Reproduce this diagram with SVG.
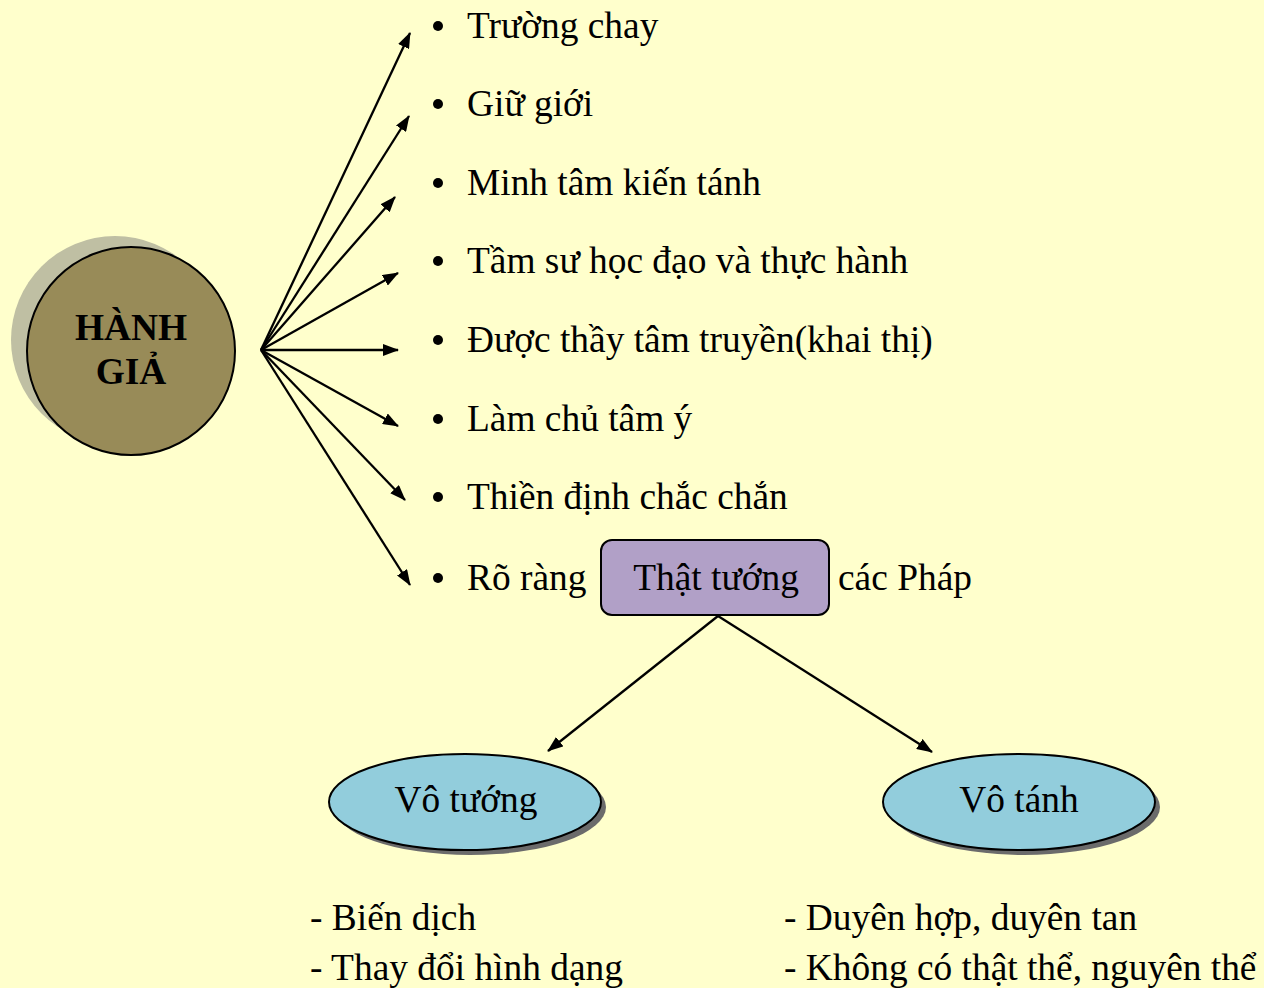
<svg xmlns="http://www.w3.org/2000/svg" width="1264" height="988" viewBox="0 0 1264 988">
<defs>
<marker id="ah" viewBox="0 0 16 12" refX="15" refY="6" markerWidth="16" markerHeight="12" markerUnits="userSpaceOnUse" orient="auto">
<path d="M0,0 L16,6 L0,12 Z" fill="#000"/>
</marker>
</defs>
<style>
.t{font-family:"Liberation Serif","Times New Roman",serif;font-size:37.4px;fill:#000}
.c{stroke:#000;stroke-width:2.3;fill:none;marker-end:url(#ah)}
</style>
<rect width="1264" height="988" fill="#FFFFCC"/>
<g id="hanh-gia">
<circle cx="115" cy="340" r="104" fill="#BFBFA3"/>
<circle cx="131" cy="351" r="104" fill="#988B58" stroke="#000" stroke-width="2"/>
<text class="t" x="131" y="340" text-anchor="middle" font-weight="bold" font-size="35">HÀNH</text>
<text class="t" x="131" y="384" text-anchor="middle" font-weight="bold" font-size="35">GIẢ</text>
</g>
<g id="connectors">
<line class="c" x1="261" y1="350" x2="410" y2="33"/>
<line class="c" x1="261" y1="350" x2="409" y2="116"/>
<line class="c" x1="261" y1="350" x2="395" y2="197"/>
<line class="c" x1="261" y1="350" x2="398" y2="273"/>
<line class="c" x1="261" y1="350" x2="398" y2="350"/>
<line class="c" x1="261" y1="350" x2="398" y2="426"/>
<line class="c" x1="261" y1="350" x2="405" y2="500"/>
<line class="c" x1="261" y1="350" x2="410" y2="585"/>
<line class="c" x1="718" y1="616" x2="548" y2="751"/>
<line class="c" x1="718" y1="616" x2="932" y2="752"/>
</g>
<g id="list">
<circle cx="438" cy="26" r="5"/><text class="t" x="467" y="38">Trường chay</text>
<circle cx="438" cy="104" r="5"/><text class="t" x="467" y="116">Giữ giới</text>
<circle cx="438" cy="183" r="5"/><text class="t" x="467" y="195">Minh tâm kiến tánh</text>
<circle cx="438" cy="261" r="5"/><text class="t" x="467" y="273">Tầm sư học đạo và thực hành</text>
<circle cx="438" cy="340" r="5"/><text class="t" x="467" y="352">Được thầy tâm truyền(khai thị)</text>
<circle cx="438" cy="419" r="5"/><text class="t" x="467" y="431">Làm chủ tâm ý</text>
<circle cx="438" cy="497" r="5"/><text class="t" x="467" y="509">Thiền định chắc chắn</text>
<circle cx="438" cy="578" r="5"/><text class="t" x="467" y="590">Rõ ràng</text>
<text class="t" x="838" y="590">các Pháp</text>
</g>
<g id="that-tuong">
<rect x="601" y="540" width="228" height="75" rx="11" fill="#B1A0C7" stroke="#000" stroke-width="2"/>
<text class="t" x="716" y="590" text-anchor="middle">Thật tướng</text>
</g>
<g id="vo-tuong">
<ellipse cx="470" cy="807" rx="136" ry="48" fill="#6B6B6B"/>
<ellipse cx="465" cy="802" rx="136" ry="48" fill="#92CDDC" stroke="#000" stroke-width="2"/>
<text class="t" x="466" y="812" text-anchor="middle">Vô tướng</text>
</g>
<g id="vo-tanh">
<ellipse cx="1024" cy="807" rx="136" ry="48" fill="#6B6B6B"/>
<ellipse cx="1019" cy="802" rx="136" ry="48" fill="#92CDDC" stroke="#000" stroke-width="2"/>
<text class="t" x="1019" y="812" text-anchor="middle">Vô tánh</text>
</g>
<g id="notes">
<text class="t" x="310" y="930">- Biến dịch</text>
<text class="t" x="310" y="980">- Thay đổi hình dạng</text>
<text class="t" x="784" y="930">- Duyên hợp, duyên tan</text>
<text class="t" x="784" y="980">- Không có thật thể, nguyên thể</text>
</g>
</svg>
